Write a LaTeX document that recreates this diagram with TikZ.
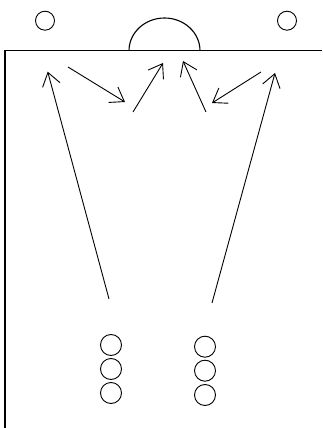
\documentclass[tikz,border=0pt]{standalone}
\usepackage{tikz}
\usetikzlibrary{arrows.meta}

\tikzset{
  pitch/.style={line width=1.1pt, black},
  cone/.style={line width=0.9pt, black},
  pass/.style={line width=0.9pt, black, -{Straight Barb[length=13pt, width=18pt, line width=0.9pt]}}
}

\begin{document}
\begin{tikzpicture}[x=1pt, y=1pt]
    \useasboundingbox (0,0) rectangle (322,428);
    % field edges
    \draw[pitch] (5,0) -- (5,377.3) -- (322,377.3);
    % goal
    \draw[pitch] (129,377.3) arc[start angle=180, end angle=0, x radius=35.5, y radius=32.7];
    % cones at the top
    \draw[cone] (45,407.3) circle (9.5);
    \draw[cone] (287,407.3) circle (9.5);
    % players in two rows of three
    \foreach \y in {83,59,35} \draw[cone] (111,\y) circle (10.5);
    \foreach \y in {81.3,57.3,33} \draw[cone] (205,\y) circle (10.5);
    % passes and runs
    \draw[pass] (109,129) -- (47.7,356.3);
    \draw[pass] (68,361) -- (125,326);
    \draw[pass] (133,316) -- (163,365);
    \draw[pass] (206,316) -- (183,367);
    \draw[pass] (261,356) -- (212,325);
    \draw[pass] (212,125) -- (275,355);
  \end{tikzpicture}
\end{document}
